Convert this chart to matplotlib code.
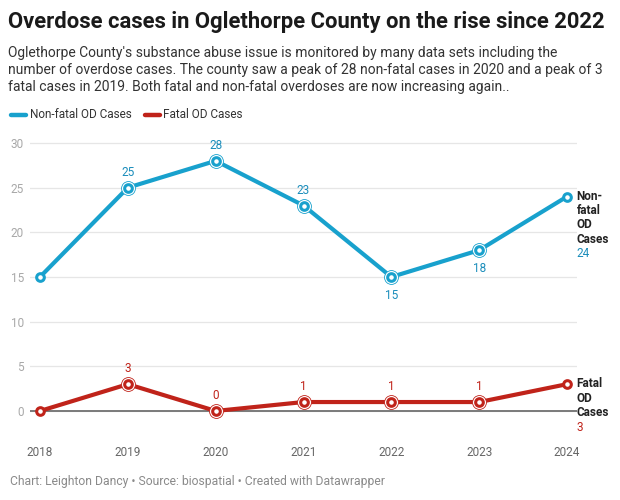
import matplotlib.pyplot as plt
from matplotlib.lines import Line2D

plt.rcParams['font.family'] = ['Roboto', 'DejaVu Sans']

years = [2018, 2019, 2020, 2021, 2022, 2023, 2024]
nonfatal = [15, 25, 28, 23, 15, 18, 24]
fatal = [0, 3, 0, 1, 1, 1, 3]
# where the value label goes: 1 above, -1 below, 0 none
nonfatal_pos = [0, 1, 1, 1, -1, -1, 0]
fatal_pos = [0, 1, 1, 1, 1, 1, 0]
y_ticks = [0, 5, 10, 15, 20, 25, 30]

BLUE = '#18a1cd'
BLUE_TXT = '#1a8dbb'
RED = '#c0231a'
RED_TXT = '#c0231a'

W, H = 620, 500


def fx(px):
    return px / W


def fy(px):
    return 1 - px / H


fig = plt.figure(figsize=(6.2, 5), dpi=100)
fig.patch.set_facecolor('white')

ax = fig.add_axes([fx(30), fy(433.3), fx(547), (433.3 - 140.3) / H])
ax.set_xlim(2018 - 10 / 87.83, 2024 + 10 / 87.83)
ax.set_ylim(-2.5, 30.3)

for s in ax.spines.values():
    s.set_visible(False)
ax.set_yticks(y_ticks)
ax.set_yticklabels([str(v) for v in y_ticks])
ax.tick_params(axis='y', length=0, pad=4.5, labelsize=8.5, labelcolor='#a8a8a8')
ax.set_xticks(years)
ax.set_xticklabels([str(y) for y in years])
ax.tick_params(axis='x', length=0, pad=9, labelsize=8.5, labelcolor='#666666')
ax.grid(axis='y', color='#e6e6e6', lw=0.9)
ax.set_axisbelow(True)
ax.axhline(0, color='#7a7a7a', lw=1.4, zorder=1)


def draw_series(vals, pos, color, txtcolor):
    ax.plot(years, vals, color=color, lw=3, solid_capstyle='round',
            solid_joinstyle='round', zorder=3)
    for x, v, p in zip(years, vals, pos):
        if p != 0:
            ax.plot(x, v, 'o', ms=10, mfc='white', mec=color, mew=0.6, zorder=4)
            off = 11 if p > 0 else -13
            ax.annotate(str(v), (x, v), xytext=(0, off), textcoords='offset points',
                        ha='center', va='center', fontsize=8.5, color=txtcolor)
    ax.plot(years, vals, 'o', ms=5.5, mfc='white', mec=color, mew=2.2,
            ls='none', zorder=5)


draw_series(nonfatal, nonfatal_pos, BLUE, BLUE_TXT)
draw_series(fatal, fatal_pos, RED, RED_TXT)


def end_label(val, name, txtcolor):
    ax.annotate(name, (years[-1], val), xytext=(7, 5), textcoords='offset points',
                ha='left', va='top', fontsize=8.5, fontweight='bold', color='#222222',
                linespacing=1.13, annotation_clip=False)
    nlines = name.count('\n') + 1
    ax.annotate(str(val), (years[-1], val), xytext=(7, -10.2 * nlines - 0.5),
                textcoords='offset points', ha='left', va='center', fontsize=8.5,
                color=txtcolor, annotation_clip=False)


end_label(nonfatal[-1], 'Non-\nfatal\nOD\nCases', BLUE_TXT)
end_label(fatal[-1], 'Fatal\nOD\nCases', RED_TXT)

fig.text(fx(8), fy(22), 'Overdose cases in Oglethorpe County on the rise since 2022',
         fontsize=15.8, fontweight='bold', color='#1a1a1a', va='center', ha='left')
fig.text(fx(8), fy(46), "Oglethorpe County's substance abuse issue is monitored by many data sets including the\n"
         "number of overdose cases. The county saw a peak of 28 non-fatal cases in 2020 and a peak of 3\n"
         "fatal cases in 2019. Both fatal and non-fatal overdoses are now increasing again..",
         fontsize=10, color='#333333', va='top', ha='left', linespacing=1.29)

# legend
fig.add_artist(Line2D([fx(11), fx(26)], [fy(115), fy(115)], transform=fig.transFigure,
                      color=BLUE, lw=3.2, solid_capstyle='round'))
fig.text(fx(30), fy(115), 'Non-fatal OD Cases', fontsize=8.5, color='#333333', va='center')
fig.add_artist(Line2D([fx(145), fx(160)], [fy(115), fy(115)], transform=fig.transFigure,
                      color=RED, lw=3.2, solid_capstyle='round'))
fig.text(fx(163), fy(115), 'Fatal OD Cases', fontsize=8.5, color='#333333', va='center')

fig.text(fx(10), fy(482), 'Chart: Leighton Dancy \u2022 Source: biospatial \u2022 Created with Datawrapper',
         fontsize=8.7, color='#8a8a8a', va='center', ha='left')

fig.savefig('out.png', dpi=100, facecolor='white')
